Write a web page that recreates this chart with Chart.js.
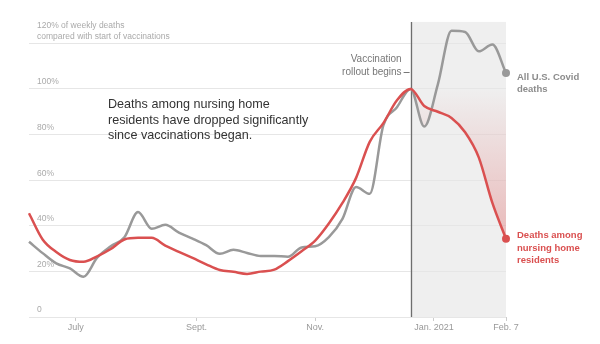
<!DOCTYPE html>
<html><head><meta charset="utf-8">
<script src="https://cdn.jsdelivr.net/npm/chart.js@4"></script>
<style>html,body{margin:0;padding:0;background:#fff}#wrap{width:600px;height:344px;position:relative}</style>
</head><body><div id="wrap"><canvas id="c" width="600" height="344"></canvas></div>
<script>
const weekDates = ['2020-06-07','2020-06-14','2020-06-21','2020-06-28','2020-07-05','2020-07-12','2020-07-19','2020-07-26',
  '2020-08-02','2020-08-09','2020-08-16','2020-08-23','2020-08-30','2020-09-06','2020-09-13','2020-09-20','2020-09-27',
  '2020-10-04','2020-10-11','2020-10-18','2020-10-25','2020-11-01','2020-11-08','2020-11-15','2020-11-22','2020-11-29',
  '2020-12-06','2020-12-13','2020-12-20','2020-12-27','2021-01-03','2021-01-10','2021-01-17','2021-01-24','2021-01-31','2021-02-07'];
const allDeaths = [33,28,23.5,21.3,17.6,26,31,35,46,38.7,40.4,37,34.4,31.5,27.7,29.5,28.1,26.8,26.8,26.4,30.5,31,35,43,57,54,84,92,100,83.5,102,125.5,125,116.5,119.5,107];
const nursingHomeDeaths = [45.5,34,28.5,25,24.2,26.6,29.8,34,34.7,34.7,31.3,28.6,25.9,23.1,20.6,19.8,18.9,19.9,20.8,24.5,28.8,33.5,41,50,61,76.8,85,95,100,92.5,90,87.3,81,70,50,34.3];
const vaccinationDate = '2020-12-20';
const xTickDates = ['2020-07-01','2020-09-01','2020-11-01','2021-01-01','2021-02-07'];
const xTickLabels = ['July','Sept.','Nov.','Jan. 2021','Feb. 7'];
const yTickValues = [0,20,40,60,80,100,120];
const yTickLabels = ['0','20%','40%','60%','80%','100%',['120% of weekly deaths','compared with start of vaccinations','']];
const annotationText = ['Deaths among nursing home','residents have dropped significantly','since vaccinations began.'];
const rolloutText = ['Vaccination','rollout begins'];
const allLabel = ['All U.S. Covid','deaths'];
const nursingLabel = ['Deaths among','nursing home','residents'];

const GRAY = '#999999', RED = '#da5050';
const FONT = "'Liberation Sans', Arial, sans-serif";
Chart.defaults.font.family = FONT;
const DAY = 86400000;
const t0 = Date.parse(weekDates[0]);
const dayOf = d => (Date.parse(d) - t0) / DAY;
const grayPts = weekDates.map((d, i) => ({x: dayOf(d), y: allDeaths[i]}));
const redPts = weekDates.map((d, i) => ({x: dayOf(d), y: nursingHomeDeaths[i]}));
const vIdx = weekDates.indexOf(vaccinationDate);
const redAfter = redPts.slice(vIdx);
const lastIdx = weekDates.length - 1;

const deco = {
  id: 'deco',
  beforeDraw(chart) {
    const {ctx, chartArea: a, scales: {x}} = chart;
    const vx = x.getPixelForValue(dayOf(vaccinationDate));
    ctx.save();
    ctx.fillStyle = '#efefef';
    ctx.fillRect(vx, a.top - 2, a.right - vx, a.bottom - a.top + 2);
    ctx.restore();
  },
  beforeDatasetsDraw(chart) {
    const {ctx, chartArea: a, scales: {x}} = chart;
    const vx = Math.round(x.getPixelForValue(dayOf(vaccinationDate))) + 0.5;
    ctx.save();
    ctx.strokeStyle = '#6e6e6e';
    ctx.lineWidth = 1.3;
    ctx.beginPath(); ctx.moveTo(vx, a.top - 2); ctx.lineTo(vx, a.bottom); ctx.stroke();
    ctx.restore();
  },
  afterDatasetsDraw(chart) {
    const {ctx, scales: {x, y}} = chart;
    const vx = x.getPixelForValue(dayOf(vaccinationDate));
    ctx.save();
    ctx.fillStyle = '#333';
    ctx.font = '12.6px ' + FONT;
    ctx.textAlign = 'left'; ctx.textBaseline = 'middle';
    annotationText.forEach((t, i) => ctx.fillText(t, 108, 105 + i * 15.5));
    ctx.fillStyle = '#777';
    ctx.font = '10px ' + FONT;
    ctx.textAlign = 'right';
    const ry = y.getPixelForValue(107.5);
    ctx.fillText(rolloutText[0], vx - 9, ry - 12.5);
    ctx.fillText(rolloutText[1], vx - 9, ry);
    ctx.strokeStyle = '#777'; ctx.lineWidth = 1;
    ctx.beginPath(); ctx.moveTo(vx - 7, Math.round(ry) + 0.5); ctx.lineTo(vx - 1, Math.round(ry) + 0.5); ctx.stroke();
    const gx = x.getPixelForValue(grayPts[lastIdx].x);
    const gy = y.getPixelForValue(grayPts[lastIdx].y);
    const redY = y.getPixelForValue(redPts[lastIdx].y);
    ctx.textAlign = 'left';
    ctx.font = 'bold 9.5px ' + FONT;
    ctx.fillStyle = '#8c8c8c';
    allLabel.forEach((t, i) => ctx.fillText(t, gx + 11, gy + 4 + i * 12.3));
    ctx.fillStyle = RED;
    nursingLabel.forEach((t, i) => ctx.fillText(t, gx + 11, redY - 3 + i * 12.5));
    ctx.restore();
  }
};

new Chart(document.getElementById('c'), {
  type: 'line',
  data: {
    datasets: [
      {label: 'All U.S. Covid deaths', data: grayPts, borderColor: GRAY, borderWidth: 2.5,
        pointRadius: c => c.dataIndex === lastIdx ? 4 : 0, pointBackgroundColor: GRAY, pointBorderWidth: 0,
        cubicInterpolationMode: 'monotone', fill: false, order: 1, clip: 6},
      {label: 'Deaths among nursing home residents', data: redPts, borderColor: RED, borderWidth: 2.5,
        pointRadius: c => c.dataIndex === lastIdx ? 4 : 0, pointBackgroundColor: RED, pointBorderWidth: 0,
        cubicInterpolationMode: 'monotone', fill: false, order: 0, clip: 6},
      {label: 'gap', data: redAfter, borderWidth: 0, borderColor: 'rgba(0,0,0,0)', pointRadius: 0,
        cubicInterpolationMode: 'monotone', order: 2, fill: {target: 0},
        backgroundColor: c => {
          const ch = c.chart;
          if (!ch.chartArea) return 'rgba(0,0,0,0)';
          const ys = ch.scales.y;
          const g = ch.ctx.createLinearGradient(0, ys.getPixelForValue(100), 0, ys.getPixelForValue(30));
          g.addColorStop(0, 'rgba(222,90,90,0)');
          g.addColorStop(1, 'rgba(222,90,90,0.38)');
          return g;
        }}
    ]
  },
  options: {
    responsive: false, animation: false, events: [],
    layout: {padding: {left: 29, right: 94, top: 19, bottom: 0}},
    plugins: {legend: {display: false}, tooltip: {enabled: false}},
    scales: {
      x: {type: 'linear', min: 0, max: dayOf(weekDates[lastIdx]),
        afterBuildTicks: s => { s.ticks = xTickDates.map(d => ({value: dayOf(d)})); },
        afterFit: s => { s.height = 27; },
        grid: {drawOnChartArea: false, drawTicks: true, tickLength: 4, color: '#cccccc'},
        border: {display: false},
        ticks: {callback: (v, i) => xTickLabels[i], autoSkip: false, maxRotation: 0, color: '#999', font: {size: 9}, padding: 1}
      },
      y: {type: 'linear', min: 0, max: 128.5,
        afterBuildTicks: s => { s.ticks = yTickValues.map(v => ({value: v})); },
        afterFit: s => { s.width = 0; },
        grid: {drawTicks: false, color: '#e6e6e6'},
        border: {display: false},
        ticks: {callback: (v, i) => yTickLabels[i], mirror: true, padding: 8, labelOffset: -7, color: '#aaa', font: {size: 8.5, lineHeight: 1.25}}
      }
    }
  },
  plugins: [deco]
});
</script></body></html>
